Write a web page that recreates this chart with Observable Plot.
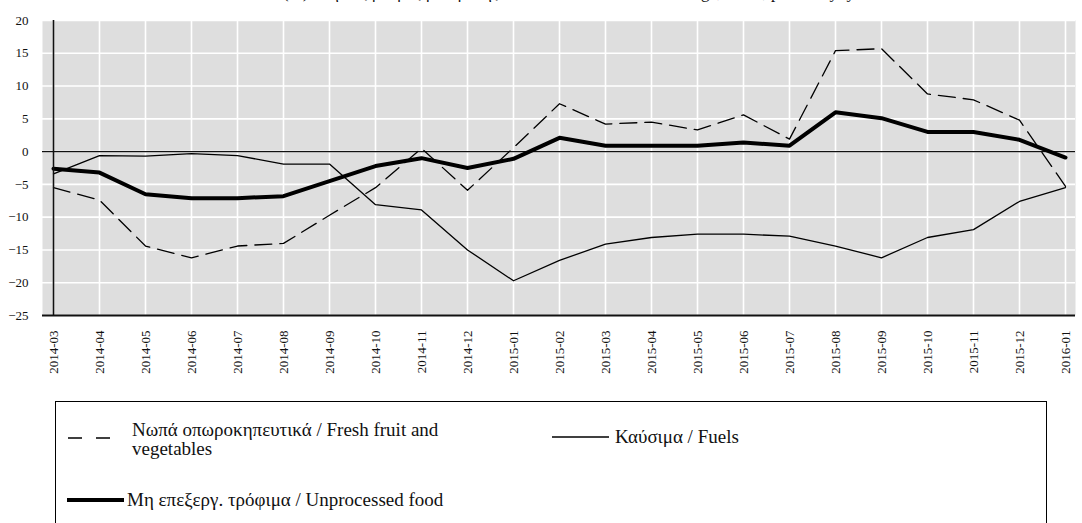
<!DOCTYPE html>
<html>
<head>
<meta charset="utf-8">
<script src="https://cdn.jsdelivr.net/npm/d3@7"></script>
<script src="https://cdn.jsdelivr.net/npm/@observablehq/plot@0.6"></script>
<style>
  html, body { margin: 0; padding: 0; background: #fff; overflow: hidden; }
  body { width: 1082px; height: 523px; position: relative; font-family: 'Liberation Serif', 'DejaVu Serif', 'Times New Roman', Times, 'Noto Serif', serif; }
  #title { position: absolute; top: -17px; left: 283px; font-size: 17px; line-height: 20px; white-space: nowrap; color: #111; }
  #chart { position: absolute; top: 0; left: 0; }
  #chart svg, #chart text { font-family: 'Liberation Serif', 'DejaVu Serif', 'Times New Roman', Times, 'Noto Serif', serif; }
  #legend { position: absolute; left: 55px; top: 401px; width: 992px; height: 140px; border: 1.5px solid #000; box-sizing: border-box; }
  .lg-item { position: absolute; font-size: 19px; line-height: 19px; color: #111; white-space: nowrap; }
  .lg-sample { position: absolute; }
</style>
</head>
<body>
<div id="title">(%) Ετήσιος ρυθμός μεταβολής ΕνΔΤΚ / Annual rate of change, HICP, per cent yoy</div>
<div id="chart"></div>
<div id="legend"></div>
<script>
const months = ["2014-03","2014-04","2014-05","2014-06","2014-07","2014-08","2014-09","2014-10","2014-11","2014-12",
  "2015-01","2015-02","2015-03","2015-04","2015-05","2015-06","2015-07","2015-08","2015-09","2015-10","2015-11","2015-12","2016-01"];

const freshLabel = "Νωπά οπωροκηπευτικά / Fresh fruit and vegetables";
const fuelsLabel = "Καύσιμα / Fuels";
const unprocLabel = "Μη επεξεργ. τρόφιμα / Unprocessed food";

const freshFruitVeg = [-5.5, -7.4, -14.4, -16.2, -14.4, -14.0, -9.7, -5.5, 0.5, -5.9,
  0.6, 7.3, 4.2, 4.5, 3.3, 5.6, 1.9, 15.4, 15.7, 8.8, 7.9, 4.8, -5.3];
const fuels = [-3.4, -0.6, -0.7, -0.3, -0.6, -1.9, -1.9, -8.1, -8.9, -15.0,
  -19.7, -16.6, -14.1, -13.1, -12.6, -12.6, -12.9, -14.4, -16.2, -13.1, -11.9, -7.6, -5.5];
const unprocessedFood = [-2.6, -3.2, -6.5, -7.1, -7.1, -6.8, -4.5, -2.2, -1.0, -2.5,
  -1.1, 2.1, 0.9, 0.9, 0.9, 1.4, 0.9, 6.0, 5.1, 3.0, 3.0, 1.8, -0.9];

const yTicks = [-25, -20, -15, -10, -5, 0, 5, 10, 15, 20];

const rows = (vals) => months.map((m, i) => ({month: m, value: vals[i]}));

const serif = "'Liberation Serif', 'DejaVu Serif', 'Times New Roman', Times, 'Noto Serif', serif";

const chart = Plot.plot({
  width: 1082,
  height: 392,
  marginLeft: 42,
  marginRight: 7,
  marginTop: 20,
  marginBottom: 77,
  style: {fontFamily: serif, fontSize: "13px", color: "#111", background: "transparent"},
  x: {type: "point", domain: months, padding: 0},
  y: {domain: [-25, 20]},
  marks: [
    Plot.frame({fill: "#dedede", stroke: null}),
    Plot.gridY(yTicks, {stroke: "#fff", strokeOpacity: 1, strokeWidth: 1.6}),
    Plot.gridX(months, {stroke: "#fff", strokeOpacity: 1, strokeWidth: 1.6}),
    Plot.ruleY([0], {stroke: "#111", strokeWidth: 1.3}),
    Plot.lineY(rows(fuels), {x: "month", y: "value", stroke: "#000", strokeWidth: 1.3}),
    Plot.lineY(rows(freshFruitVeg), {x: "month", y: "value", stroke: "#000", strokeWidth: 1.3, strokeDasharray: "17,8"}),
    Plot.lineY(rows(unprocessedFood), {x: "month", y: "value", stroke: "#000", strokeWidth: 4}),
    Plot.ruleX([months[0]], {stroke: "#111", strokeWidth: 1.6}),
    Plot.ruleY([-25], {stroke: "#111", strokeWidth: 2.2}),
    Plot.axisY(yTicks, {tickSize: 0, tickPadding: 14, fontSize: 13, label: null}),
    Plot.axisX(months, {tickSize: 0, tickPadding: 15, tickRotate: -90, fontSize: 13, label: null})
  ]
});
document.getElementById("chart").appendChild(chart);

// Legend
const legend = document.getElementById("legend");
const ox = 55, oy = 401;
function sample(x1, x2, y, width, dash) {
  const ns = "http://www.w3.org/2000/svg";
  const svg = document.createElementNS(ns, "svg");
  svg.setAttribute("class", "lg-sample");
  svg.setAttribute("width", x2 - x1);
  svg.setAttribute("height", 10);
  svg.style.left = (x1 - ox) + "px";
  svg.style.top = (y - oy - 5) + "px";
  const l = document.createElementNS(ns, "line");
  l.setAttribute("x1", 0); l.setAttribute("x2", x2 - x1);
  l.setAttribute("y1", 5); l.setAttribute("y2", 5);
  l.setAttribute("stroke", "#000");
  l.setAttribute("stroke-width", width);
  if (dash) l.setAttribute("stroke-dasharray", dash);
  svg.appendChild(l);
  legend.appendChild(svg);
}
function label(x, y, html) {
  const d = document.createElement("div");
  d.className = "lg-item";
  d.style.left = (x - ox) + "px";
  d.style.top = (y - oy) + "px";
  d.innerHTML = html;
  legend.appendChild(d);
}
const freshParts = freshLabel.split(" and ");
sample(67, 112, 437, 1.3, "14,14");
label(131, 419, freshParts[0] + " and<br>" + freshParts[1]);
sample(551, 608, 436, 1.3, null);
label(614, 426, fuelsLabel);
sample(66, 123, 499, 4, null);
label(126, 489, unprocLabel);
</script>
</body>
</html>
